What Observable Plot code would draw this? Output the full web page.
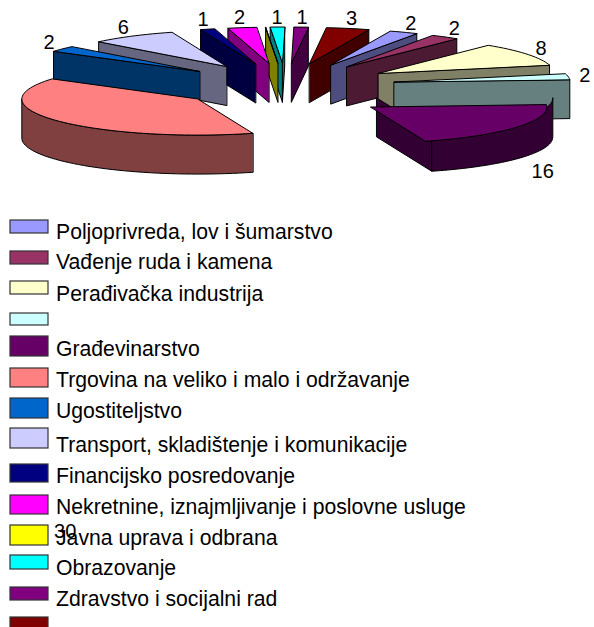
<!DOCTYPE html>
<html>
<head>
<meta charset="utf-8">
<style>html,body{margin:0;padding:0;background:#fff}svg{display:block}</style>
<script src="https://cdn.jsdelivr.net/npm/d3@7"></script>
<script src="https://cdn.jsdelivr.net/npm/@observablehq/plot@0.6"></script>
</head>
<body>
<div id="chart"></div>
<script>
const categories = ["Poljoprivreda, lov i šumarstvo","Vađenje ruda i kamena","Perađivačka industrija","","Građevinarstvo","Trgovina na veliko i malo i održavanje","Ugostiteljstvo","Transport, skladištenje i komunikacije","Financijsko posredovanje","Nekretnine, iznajmljivanje i poslovne usluge","Javna uprava i odbrana","Obrazovanje","Zdravstvo i socijalni rad",""];
const values = [2,2,8,2,16,30,2,6,1,2,0,1,1,3];
const colors = ["#9999FF","#993366","#FFFFCC","#CCFFFF","#660066","#FF8080","#0066CC","#CCCCFF","#000080","#FF00FF","#FFFF00","#00FFFF","#800080","#800000"];

// 3D view of the pie
const cx = 285, cy = 85, rx = 176, ry = 36, depth = 39, explode = 0.625;
const rotation = 19.7 * Math.PI / 180;
const arcs = d3.pie().sort(null).startAngle(rotation).endAngle(rotation + 2 * Math.PI)(values);
const TAU = 2 * Math.PI;
// the construction slice's top face sits a little off its walls in the reference
const topShift = {4:[-6,9]};

const polys = [];
const add = (pts, fill) => { const id = polys.length ? polys[polys.length-1].id + 1 : 0; pts.forEach(p => polys.push({x:p[0], y:p[1], id, fill})); };
const darker = c => { const r = d3.rgb(c); return d3.rgb(r.r/2, r.g/2, r.b/2).formatHex(); };

const slices = arcs.map((a,i) => {
  const m = (a.startAngle + a.endAngle) / 2;
  const ax = cx + explode * rx * Math.sin(m), ay = cy - explode * ry * Math.cos(m);
  return {i, a0:a.startAngle, a1:a.endAngle, m, ax, ay};
}).sort((p,q) => p.ay - q.ay);

for (const s of slices) {
  const rim = t => [s.ax + rx*Math.sin(t), s.ay - ry*Math.cos(t)];
  const angles = (t0,t1) => { const n = Math.max(1, Math.ceil((t1-t0)/0.04)); return d3.range(n+1).map(k => t0 + (t1-t0)*k/n); };
  const wall = colors[s.i], dark = darker(wall);
  const down = p => [p[0], p[1]+depth];
  const side = t => { const p = rim(t); add([[s.ax,s.ay],p,down(p),[s.ax,s.ay+depth]], dark); };
  if (Math.sin(s.a0) < 0) side(s.a0);
  if (Math.sin(s.a1) > 0) side(s.a1);
  // front-facing part of the rim
  for (const k of [0,1]) {
    const lo = Math.max(s.a0, Math.PI/2 + k*TAU), hi = Math.min(s.a1, 3*Math.PI/2 + k*TAU);
    if (hi > lo) { const top = angles(lo,hi).map(rim); add([...top, ...top.slice().reverse().map(down)], dark); }
  }
  const sh = topShift[s.i] || [0,0];
  add([[s.ax,s.ay], ...angles(s.a0,s.a1).map(rim)].map(p => [p[0]+sh[0], p[1]+sh[1]]), wall);
}

// value labels follow the slice, one of them was dragged into the legend
const labelShift = {4:[6,-2],5:[21,355]};
const labels = arcs.map((a,i) => {
  const m = (a.startAngle+a.endAngle)/2, c = Math.cos(m);
  const sh = labelShift[i] || [0,0];
  return {v:values[i], x:cx+1.72*rx*Math.sin(m)+sh[0], y:cy-1.9*ry*c+(c<0?50:0)+sh[1]};
}).filter(d => d.v > 0);

// legend layout
const swatchTop = [220,251,281,313,336,368,398,428,464,495,525,555,587,617];
const swatchBottom = [233,264,294,325,356,387,418,448,482,514,545,569,600,632];
const textMiddle = [232,262,294,325,349,380,411,445,476,507,538,568,599,630];
const legend = categories.map((name,i) => ({name, fill:colors[i], top:swatchTop[i], bottom:swatchBottom[i], ty:textMiddle[i]}));

const chart = Plot.plot({
  width:594, height:627, margin:0,
  x:{domain:[0,594], range:[0,594], axis:null},
  y:{domain:[0,627], range:[0,627], axis:null},
  color:{type:"identity"},
  style:{fontFamily:"Liberation Sans, Arial, sans-serif", background:"#fff", overflow:"hidden"},
  marks:[
    Plot.line(polys,{x:"x",y:"y",z:"id",fill:"fill",stroke:"#000",strokeWidth:1,strokeLinejoin:"round",curve:"linear-closed"}),
    Plot.rect(legend,{x1:10,x2:48,y1:"top",y2:"bottom",fill:"fill",stroke:"#333",strokeWidth:1.2}),
    Plot.text(legend.filter(d=>d.name),{x:55.5,y:"ty",text:"name",textAnchor:"start",lineAnchor:"middle",fontSize:21.2,fill:"#000"}),
    Plot.text(labels,{x:"x",y:"y",text:d=>String(d.v),textAnchor:"middle",lineAnchor:"middle",fontSize:20,fill:"#000"})
  ]
});
document.getElementById("chart").append(chart);
</script>
</body>
</html>
